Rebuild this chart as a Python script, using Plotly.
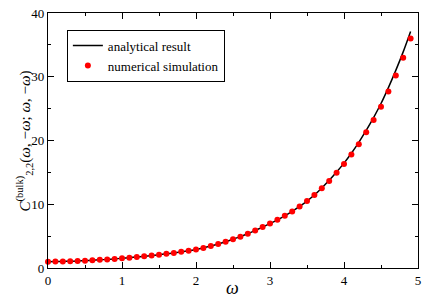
import plotly.graph_objects as go

omega = [round(0.1 * i, 1) for i in range(50)]
numerical = [1.00, 1.01, 1.03, 1.06, 1.10, 1.15, 1.21, 1.28, 1.35, 1.43,
             1.52, 1.62, 1.72, 1.83, 1.95, 2.08, 2.22, 2.37, 2.53, 2.71,
             2.90, 3.15, 3.45, 3.78, 4.12, 4.50, 4.92, 5.38, 5.90, 6.42,
             6.98, 7.55, 8.18, 8.88, 9.65, 10.50, 11.45, 12.50, 13.65, 14.95,
             16.30, 17.80, 19.40, 21.30, 23.20, 25.30, 27.70, 30.20, 33.00, 36.00]
analytical = [1.00, 1.01, 1.03, 1.06, 1.10, 1.15, 1.21, 1.28, 1.35, 1.43,
              1.52, 1.62, 1.72, 1.83, 1.95, 2.08, 2.22, 2.37, 2.53, 2.71,
              2.90, 3.15, 3.45, 3.78, 4.12, 4.50, 4.92, 5.38, 5.90, 6.42,
              6.98, 7.55, 8.18, 8.88, 9.65, 10.50, 11.45, 12.55, 13.75, 15.05,
              16.45, 18.00, 19.70, 21.60, 23.60, 25.80, 28.30, 31.00, 33.90, 37.10]

x_ticks = [0, 1, 2, 3, 4, 5]
y_ticks = [0, 10, 20, 30, 40]

x_title = "<i>ω</i>"
y_title = "<i>C</i><sup>(bulk)</sup><sub>2,2</sub>(<i>ω</i>, −<i>ω</i>; <i>ω</i>, −<i>ω</i>)"

font_family = "Liberation Serif"

fig = go.Figure()
fig.add_trace(go.Scatter(x=omega, y=analytical, mode="lines", name="analytical result",
                         line=dict(color="black", width=1.5, shape="spline")))
fig.add_trace(go.Scatter(x=omega, y=numerical, mode="markers", name="numerical simulation",
                         marker=dict(color="red", size=6), cliponaxis=False))

axis_common = dict(showgrid=False, zeroline=False, showline=True, linecolor="black",
                   linewidth=1.2, mirror="ticks", ticks="inside", ticklen=6,
                   tickcolor="black", tickwidth=1, ticklabeloverflow="allow",
                   tickfont=dict(family=font_family, size=13, color="black"))

fig.update_xaxes(range=[0, 5], tickvals=x_ticks, ticktext=[str(v) for v in x_ticks],
                 minor=dict(ticks="inside", ticklen=3, dtick=0.5, tickcolor="black", showgrid=False),
                 ticklabelstandoff=0,
                 **axis_common)
fig.update_yaxes(range=[0, 40], tickvals=y_ticks, ticktext=[str(v) for v in y_ticks],
                 minor=dict(ticks="inside", ticklen=3, dtick=5, tickcolor="black", showgrid=False),
                 **axis_common)

fig.add_annotation(text=x_title, xref="paper", yref="paper", x=0.498, y=-0.078,
                   xanchor="center", yanchor="middle", showarrow=False,
                   font=dict(family=font_family, size=18, color="black"))
fig.add_annotation(text=y_title, xref="paper", yref="paper", x=-0.065, y=0.5,
                   xanchor="center", yanchor="middle", showarrow=False, textangle=-90,
                   font=dict(family=font_family, size=15, color="black"))

fig.update_layout(
    width=427, height=298,
    margin=dict(l=48, r=6, t=7, b=30),
    plot_bgcolor="white", paper_bgcolor="white",
    showlegend=True,
    legend=dict(x=0.051, y=0.935, xanchor="left", yanchor="top",
                bordercolor="black", borderwidth=1, bgcolor="white",
                font=dict(family=font_family, size=13, color="black"),
                tracegroupgap=0, itemwidth=30),
)

fig.write_html("out.html", config={"displayModeBar": False},
               post_script="document.body.style.margin='0';document.body.style.overflow='hidden';")
